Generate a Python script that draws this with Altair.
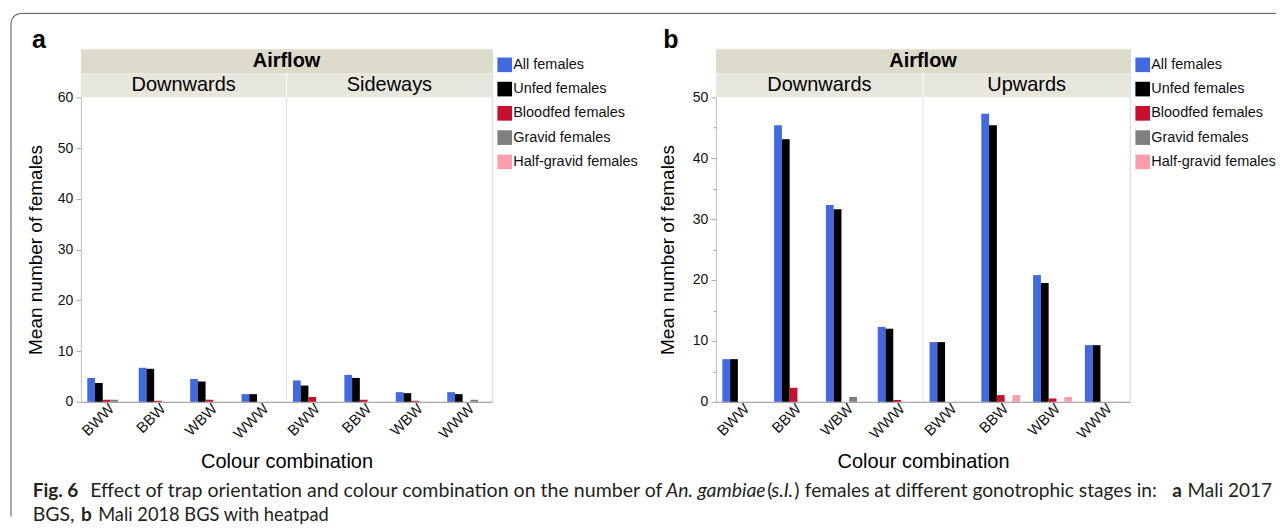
import altair as alt
import pandas as pd

stages = ["All females", "Unfed females", "Bloodfed females", "Gravid females", "Half-gravid females"]
stage_colors = ["#4169E1", "#000000", "#C8102E", "#7F7F7F", "#FF9EAB"]
combos = ["BWW", "BBW", "WBW", "WWW"]

# Panel a: Mali 2017 BGS
a_orients = ["Downwards", "Sideways"]
a_all = [4.7, 6.7, 4.5, 1.5, 4.2, 5.3, 1.9, 1.9]
a_unfed = [3.7, 6.5, 4.0, 1.5, 3.2, 4.7, 1.7, 1.5]
a_blood = [0.4, 0.2, 0.4, 0.0, 0.95, 0.4, 0.2, 0.0]
a_gravid = [0.4, 0.0, 0.0, 0.0, 0.0, 0.0, 0.0, 0.4]
a_half = [0.0, 0.0, 0.0, 0.0, 0.0, 0.0, 0.0, 0.0]

# Panel b: Mali 2018 BGS with heatpad
b_orients = ["Downwards", "Upwards"]
b_all = [7.0, 45.4, 32.3, 12.3, 9.8, 47.3, 20.8, 9.3]
b_unfed = [7.0, 43.1, 31.6, 12.0, 9.8, 45.4, 19.5, 9.3]
b_blood = [0.0, 2.3, 0.0, 0.3, 0.0, 1.1, 0.55, 0.0]
b_gravid = [0.0, 0.0, 0.8, 0.0, 0.0, 0.0, 0.0, 0.0]
b_half = [0.0, 0.0, 0.0, 0.0, 0.0, 1.1, 0.8, 0.0]

a_yticks = [0, 10, 20, 30, 40, 50, 60]
b_yticks = [0, 10, 20, 30, 40, 50]
b_minor = [5, 15, 25, 35, 45]

FONT = "Liberation Sans"
CAP_FONT = "Lato"
H = 305


def make_df(orients, series):
    rows = []
    for i, o in enumerate(orients):
        for j, c in enumerate(combos):
            k = i * 4 + j
            for s, vals in zip(stages, series):
                rows.append({"key": f"{o}|{c}", "stage": s, "value": vals[k]})
    return pd.DataFrame(rows)


def panel(df, orients, ymax, yticks, W, letter, ytitle_x, minor=None):
    keys = [f"{o}|{c}" for o in orients for c in combos]
    yscale = alt.Scale(domain=[0, ymax], nice=False, zero=True)
    bars = alt.Chart(df).mark_bar().encode(
        x=alt.X("key:N", sort=keys,
                scale=alt.Scale(domain=keys, paddingInner=0, paddingOuter=0),
                axis=alt.Axis(title="Colour combination",
                              labelExpr="split(datum.label, '|')[1]",
                              labelAngle=315, labelAlign="right", labelBaseline="middle",
                              labelFontSize=15, labelFont=FONT, labelColor="#111",
                              labelPadding=4, labelOffset=5, ticks=False,
                              domainColor="#a8a8a8", domainWidth=1.2,
                              titleFontSize=20, titleFont=FONT, titleFontWeight="normal",
                              titleColor="#000", titleX=W / 2, titleY=60,
                              titleBaseline="middle", titleAlign="center")),
        xOffset=alt.XOffset("stage:N", sort=stages,
                            scale=alt.Scale(domain=stages, paddingInner=0, paddingOuter=0.83)),
        y=alt.Y("value:Q", scale=yscale,
                axis=alt.Axis(title="Mean number of females", values=yticks, grid=False,
                              orient="left",
                              labelFontSize=14, labelFont=FONT, labelColor="#111",
                              labelPadding=3, tickSize=5, tickColor="#aaa",
                              domainColor="#bcbcbc",
                              titleFontSize=19, titleFont=FONT, titleFontWeight="normal",
                              titleColor="#000", titleAngle=270, titleX=ytitle_x,
                              titleY=H / 2, titleAlign="center", titleBaseline="middle")),
        color=alt.Color("stage:N", sort=stages,
                        scale=alt.Scale(domain=stages, range=stage_colors),
                        legend=alt.Legend(title=None, orient="none", legendX=W + 5, legendY=-40,
                                          symbolType="square", symbolSize=215,
                                          symbolStrokeWidth=0, labelFontSize=14.5,
                                          labelFont=FONT, labelColor="#111",
                                          rowPadding=8.3, labelOffset=1, padding=0)),
    )

    hdr = pd.DataFrame({"t": ["Airflow"]})
    band_top = alt.Chart(hdr).mark_rect(color="#dcdacb").encode(
        x=alt.value(0), x2=alt.value(W), y=alt.value(-48), y2=alt.value(-24))
    band_sub = alt.Chart(hdr).mark_rect(color="#e8e7de").encode(
        x=alt.value(0), x2=alt.value(W), y=alt.value(-24), y2=alt.value(0))
    airflow = alt.Chart(hdr).mark_text(font=FONT, fontSize=20, fontWeight="bold",
                                       baseline="middle", color="#000").encode(
        x=alt.value(W / 2), y=alt.value(-36), text="t:N")
    sub1 = alt.Chart(pd.DataFrame({"t": [orients[0]]})).mark_text(
        font=FONT, fontSize=20, baseline="middle", color="#000").encode(
        x=alt.value(W / 4), y=alt.value(-12), text="t:N")
    sub2 = alt.Chart(pd.DataFrame({"t": [orients[1]]})).mark_text(
        font=FONT, fontSize=20, baseline="middle", color="#000").encode(
        x=alt.value(3 * W / 4), y=alt.value(-12), text="t:N")
    sep_plot = alt.Chart(hdr).mark_rule(color="#e0e0e0", strokeWidth=1).encode(
        x=alt.value(W / 2), y=alt.value(0), y2=alt.value(H))
    sep_band = alt.Chart(hdr).mark_rule(color="#ffffff", strokeWidth=1).encode(
        x=alt.value(W / 2), y=alt.value(-24), y2=alt.value(0))
    right_border = alt.Chart(hdr).mark_rule(color="#d4d4d4", strokeWidth=1).encode(
        x=alt.value(W), y=alt.value(-48), y2=alt.value(H))
    plabel = alt.Chart(pd.DataFrame({"t": [letter]})).mark_text(
        font=FONT, fontSize=25, fontWeight="bold", align="center", baseline="middle",
        color="#000").encode(x=alt.value(ytitle_x + 3), y=alt.value(-57), text="t:N")

    layers = [sep_plot, right_border, band_top, band_sub, sep_band, airflow, sub1, sub2, plabel, bars]
    if minor is not None:
        mdf = pd.DataFrame({"v": minor})
        mt = alt.Chart(mdf).mark_point(opacity=0).encode(
            y=alt.Y("v:Q", scale=yscale,
                    axis=alt.Axis(orient="left", values=minor, labels=False, domain=False,
                                  grid=False, tickSize=3, tickColor="#aaa", title=None)),
            x=alt.value(0))
        layers.append(mt)
        return alt.layer(*layers).resolve_axis(y="independent").properties(width=W, height=H)
    return alt.layer(*layers).properties(width=W, height=H)


df_a = make_df(a_orients, [a_all, a_unfed, a_blood, a_gravid, a_half])
df_b = make_df(b_orients, [b_all, b_unfed, b_blood, b_gravid, b_half])

pa = panel(df_a, a_orients, 60, a_yticks, 412, "a", -45)
pb = panel(df_b, b_orients, 50, b_yticks, 415, "b", -48, minor=b_minor)

# Figure frame (rounded top-left corner) and caption, drawn in panel a coordinates
one = pd.DataFrame({"t": [""]})
frame_top = alt.Chart(one).mark_rule(color="#555", strokeWidth=1).encode(
    x=alt.value(-60), x2=alt.value(1197), y=alt.value(-84))
frame_left = alt.Chart(one).mark_rule(color="#555", strokeWidth=1).encode(
    x=alt.value(-70), y=alt.value(-74), y2=alt.value(420))
frame_corner = alt.Chart(one).mark_arc(color="#555", innerRadius=9.5, outerRadius=10.5,
                                       theta=4.71238898, theta2=6.28318531).encode(
    x=alt.value(-60), y=alt.value(-74))

caption_segments = [
    ("Fig. 6", -48.3, 400.7, "bold", "normal", 19),
    ("Effect of trap orientation and colour combination on the number of", 9.3, 400.7, "normal", "normal", 19.6),
    ("An. gambiae", 586, 400.7, "normal", "italic", 19.4),
    ("(", 687.5, 400.7, "normal", "normal", 19.5),
    ("s.l.", 691.5, 400.7, "normal", "italic", 20),
    (")", 714.5, 400.7, "normal", "normal", 19.5),
    ("females at different gonotrophic stages in:", 725, 400.7, "normal", "normal", 19.2),
    ("a", 1093, 400.7, "bold", "normal", 19),
    ("Mali 2017", 1108.3, 400.7, "normal", "normal", 19),
    ("BGS,", -48.3, 424, "normal", "normal", 19.5),
    ("b", 0, 424, "bold", "normal", 19),
    ("Mali 2018 BGS with heatpad", 17.3, 424, "normal", "normal", 18.3),
]
cap_layers = []
for txt, cx, cy, w, st, fs in caption_segments:
    cap_layers.append(
        alt.Chart(pd.DataFrame({"t": [txt]})).mark_text(
            font=CAP_FONT, fontSize=fs, fontWeight=w, fontStyle=st, align="left",
            baseline="alphabetic", color="#231f20").encode(
            x=alt.value(cx), y=alt.value(cy), text="t:N"))

pa_full = alt.layer(pa, frame_top, frame_left, frame_corner, *cap_layers)

chart = alt.hconcat(pa_full, pb, spacing=224, bounds="flush").resolve_scale(
    color="independent", x="independent", y="independent", xOffset="independent"
).resolve_legend(color="independent").properties(
    padding={"left": 2, "top": 4, "right": 0, "bottom": 0}
).configure_view(stroke=None)

chart.save("out.html", embed_options={"renderer": "svg", "actions": False})
